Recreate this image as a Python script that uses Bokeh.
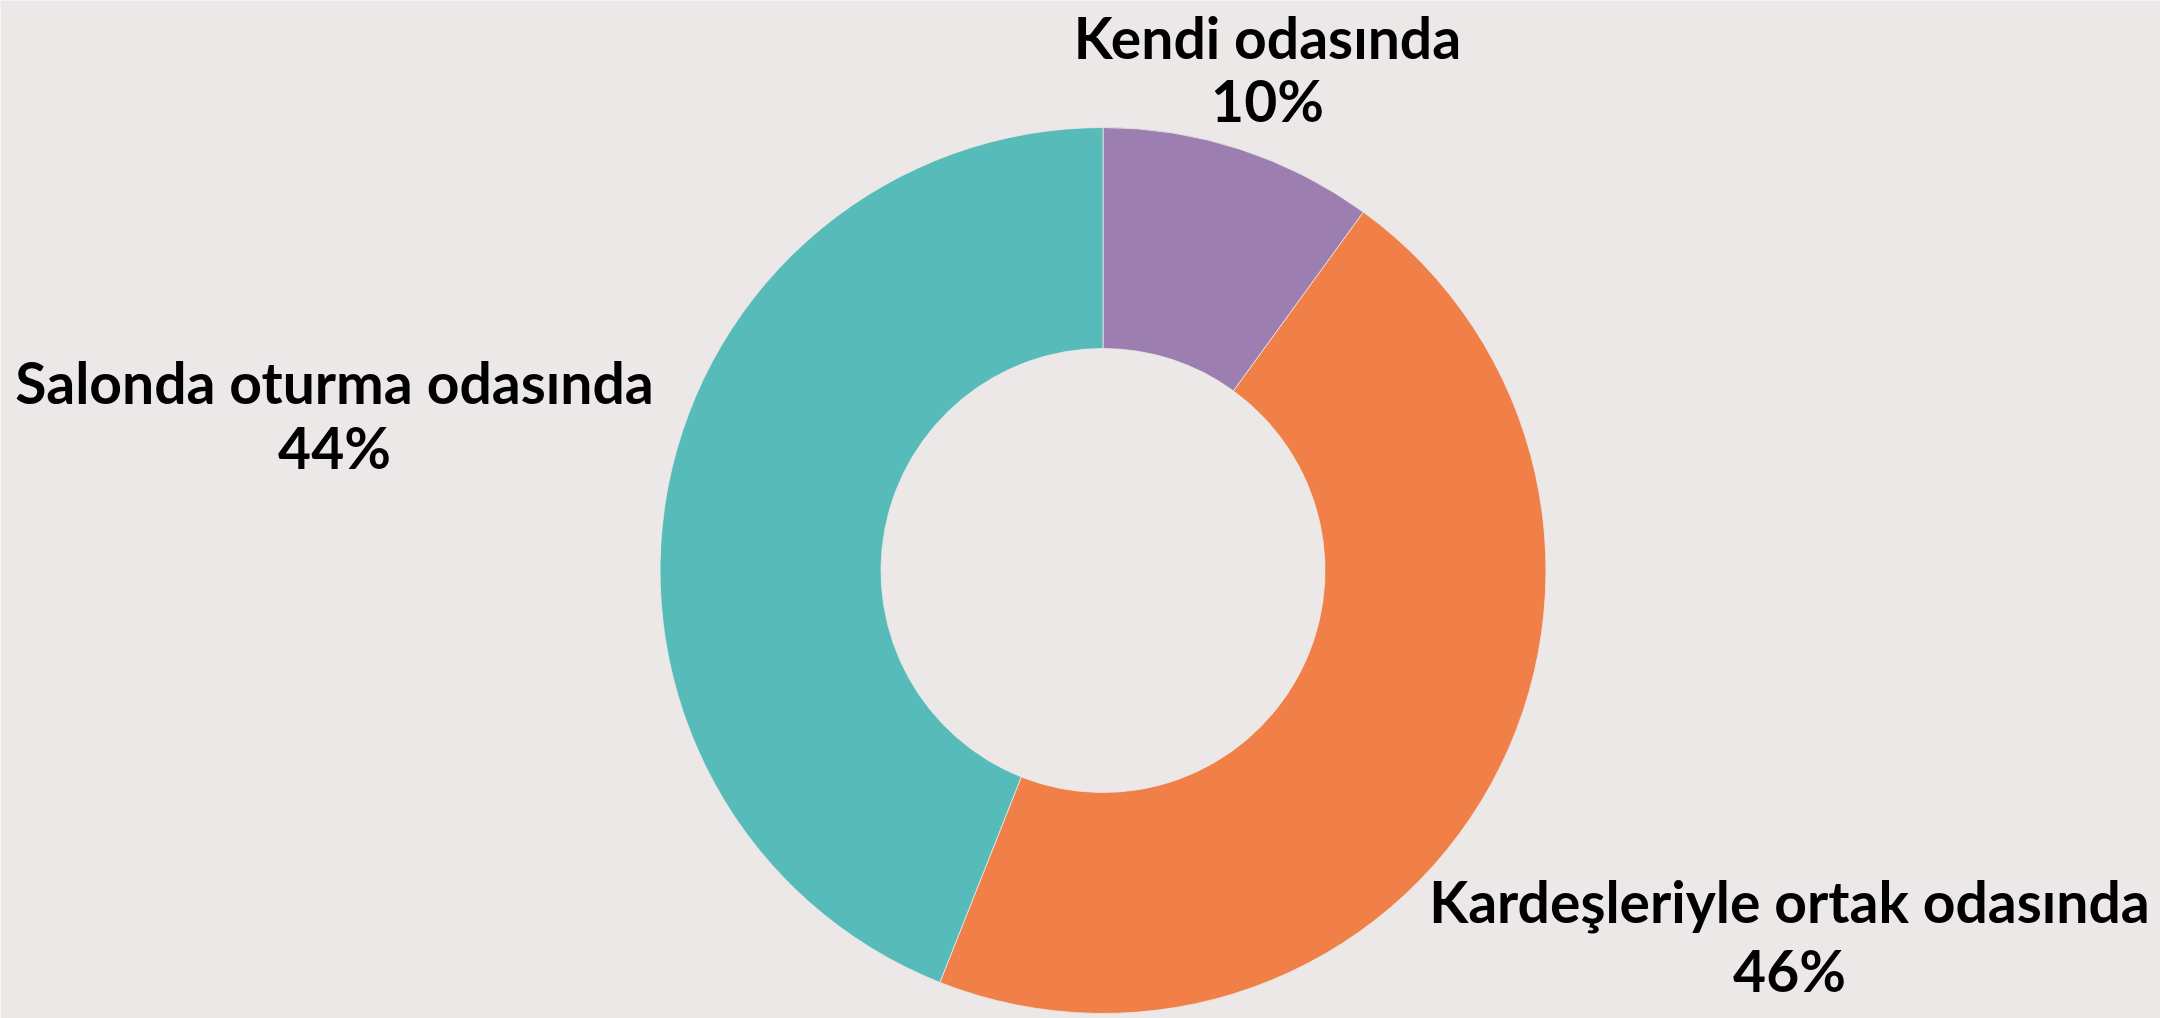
import numpy as np
from bokeh.plotting import figure
from bokeh.models import Range1d, ColumnDataSource
from bokeh.core.properties import value
from bokeh.embed import file_html
from bokeh.resources import INLINE

# ---- data ----
categories = ["Kendi odasında", "Kardeşleriyle ortak odasında", "Salonda oturma odasında"]
shares = [10, 46, 44]
colors = ["#9D7EB1", "#F08047", "#57BCB9"]

BG = "#ECE8E7"
W, H = 2160, 1018
REF_H = 1018

p = figure(width=W, height=H, output_backend="svg", toolbar_location=None,
           x_range=Range1d(0, W), y_range=Range1d(0, H),
           min_border=0, background_fill_color=BG, border_fill_color=BG,
           outline_line_color=None)
p.axis.visible = False
p.grid.visible = False

# wedges clockwise from 12 o'clock
vals = np.array(shares, dtype=float)
frac = vals / vals.sum()
cum = np.concatenate([[0], np.cumsum(frac)])
start = np.pi / 2 - cum[1:] * 2 * np.pi
end = np.pi / 2 - cum[:-1] * 2 * np.pi

cx, cy = 1102.5, REF_H - 570
src = ColumnDataSource(dict(start=start, end=end, color=colors))
p.annular_wedge(x=cx, y=cy, inner_radius=222, outer_radius=443,
                start_angle="start", end_angle="end", direction="anticlock",
                fill_color="color", line_color=BG, line_width=0.8, source=src)

# labels: (center x, name line y, value line y) in reference pixels
label_pos = [(1267, 36, 99), (1789, 900, 969), (334, 381, 446)]
xs, ys, texts = [], [], []
for (lx, b1, b2), name, v in zip(label_pos, categories, shares):
    xs += [lx, lx]
    ys += [REF_H - b1, REF_H - b2]
    texts += [name, f"{v}%"]

p.text(x=xs, y=ys, text=texts, text_align="center", text_baseline="alphabetic",
       text_font=value("Lato"), text_font_style="bold", text_font_size="57px",
       text_color="#000000")

open("out.html", "w").write(file_html(p, INLINE))
